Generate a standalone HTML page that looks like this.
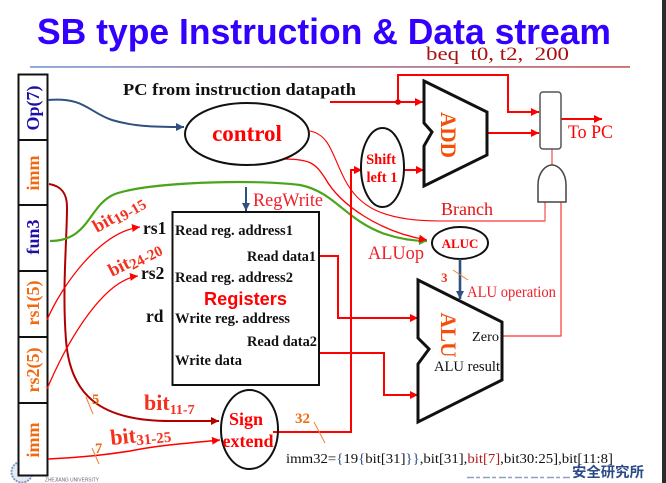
<!DOCTYPE html>
<html><head><meta charset="utf-8"><style>
html,body{margin:0;padding:0;background:#fff}
svg{display:block}
text{font-family:"Liberation Serif","Noto Serif CJK SC",serif}
.b{font-weight:bold}
.l{font-size:14.3px;font-weight:bold;fill:#111}
.o{fill:#f26a10;font-weight:bold}
.rr{fill:#f5301c;font-weight:bold}
</style></head><body>
<svg width="666" height="483" viewBox="0 0 666 483" xmlns="http://www.w3.org/2000/svg">
<defs>
<linearGradient id="g"><stop offset="0" stop-color="#6a90d0"/><stop offset="1" stop-color="#c44a4a"/></linearGradient>
<marker id="ar" markerUnits="userSpaceOnUse" markerWidth="10" markerHeight="10" refX="8" refY="4" orient="auto"><path d="M0,0L8,4L0,8Z" fill="#f00"/></marker>
<marker id="ad" markerUnits="userSpaceOnUse" markerWidth="10" markerHeight="10" refX="8" refY="4" orient="auto"><path d="M0,0L8,4L0,8Z" fill="#b00000"/></marker>
<marker id="ab" markerUnits="userSpaceOnUse" markerWidth="10" markerHeight="10" refX="8" refY="4" orient="auto"><path d="M0,0L8,4L0,8Z" fill="#2f5080"/></marker>
<marker id="ag" markerUnits="userSpaceOnUse" markerWidth="10" markerHeight="10" refX="8" refY="4" orient="auto"><path d="M0,0L8,4L0,8Z" fill="#4aa51c"/></marker>
</defs>
<rect x="662" y="0" width="4" height="483" fill="#2b2b2b"/>
<text x="37" y="44" font-size="36" font-weight="bold" fill="#3300ff" textLength="574" lengthAdjust="spacingAndGlyphs" style="font-family:'Liberation Sans',sans-serif">SB type Instruction &amp; Data stream</text>
<text x="426" y="60" font-size="19" fill="#a81010" textLength="143" lengthAdjust="spacingAndGlyphs" xml:space="preserve">beq  t0, t2,  200</text>
<rect x="30" y="66.2" width="600" height="1.5" fill="url(#g)"/>

<!-- logo -->
<circle cx="22" cy="472" r="10.5" fill="#e4ebf5" stroke="#7f9ac4" stroke-width="2" stroke-dasharray="2 1"/>
<text x="45" y="481.5" font-size="5" fill="#667" textLength="54" lengthAdjust="spacingAndGlyphs" style="font-family:'Liberation Sans',sans-serif">ZHEJIANG UNIVERSITY</text>

<!-- field column -->
<g fill="#fff" stroke="#111" stroke-width="2">
<rect x="18.5" y="74.5" width="29" height="401"/>
<path d="M18 140H48M18 205H48M18 271H48M18 337H48M18 403H48" fill="none"/>
</g>
<g font-size="18" font-weight="bold" text-anchor="middle">
<text transform="translate(39,108) rotate(-90)" fill="#1d10a8">Op(7)</text>
<text transform="translate(39,173) rotate(-90)" fill="#f26a10">imm</text>
<text transform="translate(39,237) rotate(-90)" fill="#1d10a8">fun3</text>
<text transform="translate(39,303) rotate(-90)" fill="#f26a10">rs1(5)</text>
<text transform="translate(39,370) rotate(-90)" fill="#f26a10">rs2(5)</text>
<text transform="translate(39,440) rotate(-90)" fill="#f26a10">imm</text>
</g>

<text x="123" y="95" font-size="16.5" class="b" fill="#111" textLength="233" lengthAdjust="spacingAndGlyphs">PC from instruction datapath</text>

<!-- curves from fields -->
<path d="M48,100C85,97 88,112 112,120C135,127 160,127 184,127" fill="none" stroke="#2f5080" stroke-width="2" marker-end="url(#ab)"/>
<path d="M49,184C62,186 67,194 67,207C67,240 62,290 66,340C70,395 100,421 170,421L219,421" fill="none" stroke="#b00000" stroke-width="2" marker-end="url(#ad)"/>
<path d="M47,320C62,285 100,232 140,227" fill="none" stroke="#f00" stroke-width="1.3" marker-end="url(#ar)"/>
<path d="M47,389C70,335 105,280 138,276" fill="none" stroke="#f00" stroke-width="1.3" marker-end="url(#ar)"/>
<path d="M48,459C85,457 105,455 130,451C160,445 190,443 220,440" fill="none" stroke="#f00" stroke-width="1.5" marker-end="url(#ar)"/>
<path d="M50,241C90,241 88,205 115,194C150,182 250,179 300,185C335,192 345,220 385,234C400,239 415,241 427,241" fill="none" stroke="#4aa51c" stroke-width="2.2" marker-end="url(#ag)"/>
<path d="M283,159C310,159 315,163 325,178C340,205 380,232 427,240" fill="none" stroke="#f00" stroke-width="1.3" marker-end="url(#ar)"/>
<path d="M310,131C330,135 332,155 345,180C358,205 380,221 440,221L545,221V202" fill="none" stroke="#f00" stroke-width="1.1"/>
<path d="M545,221V202" stroke="#f47a7a" stroke-width="1.5" fill="none"/>

<!-- orthogonal red -->
<g fill="none" stroke="#f00" stroke-width="2">
<path d="M330,102H423" marker-end="url(#ar)"/>
<path d="M398,102V75H508V112H539" marker-end="url(#ar)"/>
<path d="M487,133H539" marker-end="url(#ar)"/>
<path d="M561,119H602" marker-end="url(#ar)"/>
<path d="M404,170H424" marker-end="url(#ar)"/>
<path d="M273,432H351V170H362" marker-end="url(#ar)"/>
<path d="M319,256H338V318H418" marker-end="url(#ar)"/>
<path d="M319,353H384V395H418" marker-end="url(#ar)"/>
</g>
<circle cx="398" cy="102" r="2.8" fill="#e00000"/>
<path d="M561,202V336H502" fill="none" stroke="#f33" stroke-width="1.2"/>
<path d="M552,149V165" stroke="#f47a7a" stroke-width="1.6"/>

<!-- ellipses -->
<g fill="#fff" stroke="#111" stroke-width="2">
<ellipse cx="247" cy="134" rx="62" ry="31" fill="none"/>
<ellipse cx="382.5" cy="167.5" rx="21.5" ry="39.5" fill="none"/>
<ellipse cx="460" cy="243" rx="28" ry="16"/>
<ellipse cx="249.5" cy="429.5" rx="28.5" ry="39.5" fill="none"/>
</g>
<text x="247" y="141" font-size="23" class="b" fill="#f00" text-anchor="middle">control</text>
<text x="381" y="164" font-size="14.5" class="b" fill="#f00" text-anchor="middle">Shift</text>
<text x="382" y="182" font-size="14.5" class="b" fill="#f00" text-anchor="middle">left 1</text>
<text x="460" y="248" font-size="13" class="b" fill="#f00" text-anchor="middle">ALUC</text>
<text x="246" y="425" font-size="18" class="b" fill="#f00" text-anchor="middle">Sign</text>
<text x="248" y="447" font-size="18" class="b" fill="#f00" text-anchor="middle">extend</text>

<!-- ADD / ALU -->
<path d="M424,81L487,112V155L424,186V146L432,132L424,123Z" fill="#fff" stroke="#111" stroke-width="3"/>
<path d="M418,280L502,322V380L418,422V364L429,349L418,338Z" fill="#fff" stroke="#111" stroke-width="3"/>
<text transform="translate(441,135) rotate(90)" font-size="22" class="b" fill="#f5500a" text-anchor="middle" textLength="46" lengthAdjust="spacingAndGlyphs">ADD</text>
<text transform="translate(441,335) rotate(90)" font-size="22" class="b" fill="#f5500a" text-anchor="middle" textLength="45" lengthAdjust="spacingAndGlyphs">ALU</text>
<text x="472" y="341" font-size="14" fill="#111" textLength="27" lengthAdjust="spacingAndGlyphs">Zero</text>
<text x="434" y="371" font-size="14.5" fill="#111" textLength="66" lengthAdjust="spacingAndGlyphs">ALU result</text>

<!-- mux / and -->
<rect x="540" y="92" width="21" height="57" rx="3" fill="#fff" stroke="#555" stroke-width="1.5"/>
<path d="M538,202V185C538,172 546,165 552,165C558,165 566,172 566,185V202Z" fill="#fff" stroke="#444" stroke-width="1.5"/>

<!-- registers -->
<rect x="172.5" y="212" width="146.5" height="173" fill="#fff" stroke="#111" stroke-width="2"/>
<text x="175" y="235" class="l" textLength="118" lengthAdjust="spacingAndGlyphs">Read reg. address1</text>
<text x="247" y="261" class="l" textLength="69" lengthAdjust="spacingAndGlyphs">Read data1</text>
<text x="175" y="282" class="l" textLength="118" lengthAdjust="spacingAndGlyphs">Read reg. address2</text>
<text x="204" y="305" font-size="18" font-weight="bold" fill="#f00" textLength="83" lengthAdjust="spacingAndGlyphs" style="font-family:'Liberation Sans',sans-serif">Registers</text>
<text x="175" y="323" class="l" textLength="115" lengthAdjust="spacingAndGlyphs">Write reg. address</text>
<text x="247" y="346" class="l" textLength="70" lengthAdjust="spacingAndGlyphs">Read data2</text>
<text x="175" y="365" class="l" textLength="67" lengthAdjust="spacingAndGlyphs">Write data</text>
<text x="143" y="234" font-size="17.5" class="b" fill="#111">rs1</text>
<text x="141" y="279" font-size="17.5" class="b" fill="#111">rs2</text>
<text x="146" y="322" font-size="17.5" class="b" fill="#111">rd</text>

<!-- control labels -->
<path d="M246,187V211" stroke="#2f5080" stroke-width="2" fill="none" marker-end="url(#ab)"/>
<text x="253" y="206" font-size="18.5" fill="#f0202a" textLength="70" lengthAdjust="spacingAndGlyphs">RegWrite</text>
<text x="368" y="259" font-size="19" fill="#f0202a" textLength="56" lengthAdjust="spacingAndGlyphs">ALUop</text>
<text x="441" y="215" font-size="18" fill="#e81010" textLength="52" lengthAdjust="spacingAndGlyphs">Branch</text>
<text x="568" y="138" font-size="19" fill="#f00" textLength="45" lengthAdjust="spacingAndGlyphs">To PC</text>
<text x="467" y="297" font-size="15.5" fill="#f0202a" textLength="89" lengthAdjust="spacingAndGlyphs">ALU operation</text>
<path d="M460,259V299" stroke="#2f5080" stroke-width="2.6" fill="none" marker-end="url(#ab)"/>
<path d="M453,270L468,280" stroke="#f08030" stroke-width="1"/>
<text x="441" y="282" font-size="13" class="rr">3</text>

<!-- bit labels -->
<text transform="translate(97,233) rotate(-30)" font-size="18.5" class="rr">bit<tspan font-size="15" dy="3">19-15</tspan></text>
<text transform="translate(112,277) rotate(-27)" font-size="18.5" class="rr">bit<tspan font-size="15" dy="3">24-20</tspan></text>
<text x="144" y="410" font-size="22" class="rr">bit<tspan font-size="14" dy="4">11-7</tspan></text>
<text transform="translate(111,445) rotate(-6)" font-size="22" class="rr">bit<tspan font-size="15" dy="3">31-25</tspan></text>
<path d="M86,397L93,414M92,448L99,464M314,422L325,443" stroke="#f08030" stroke-width="1" fill="none"/>
<text x="92" y="404" font-size="14.5" class="o">5</text>
<text x="95" y="453" font-size="14.5" class="o">7</text>
<text x="295" y="423" font-size="15" class="o">32</text>

<text x="286" y="463" font-size="14" fill="#111" textLength="327" lengthAdjust="spacingAndGlyphs">imm32=<tspan fill="#2a4a8a">{</tspan>19<tspan fill="#2a4a8a">{</tspan>bit[31]<tspan fill="#2a4a8a">}}</tspan>,bit[31],<tspan fill="#b01818">bit[7]</tspan>,bit30:25],bit[11:8]</text>

<!-- watermark -->
<path d="M467,477.5H572" stroke="#8fa0c0" stroke-width="1.5" stroke-dasharray="7 2 4 3"/>
<text x="572" y="477" font-size="14.4" font-weight="bold" fill="#2b4a88" style="font-family:'Noto Sans CJK SC',sans-serif">安全研究所</text>
</svg>
</body></html>
